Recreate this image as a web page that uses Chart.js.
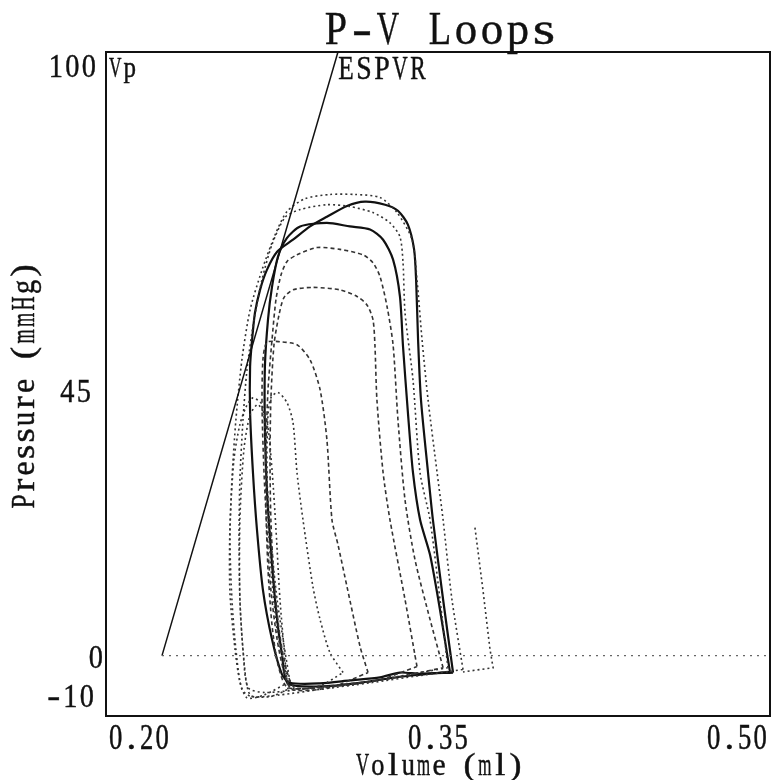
<!DOCTYPE html>
<html>
<head>
<meta charset="utf-8">
<title>P-V Loops</title>
<script src="https://cdn.jsdelivr.net/npm/chart.js@4.4.1/dist/chart.umd.min.js"></script>
<style>
  html, body { margin: 0; padding: 0; background: #fff; }
  canvas { display: block; }
</style>
</head>
<body>
<canvas id="pvChart" width="772" height="780"></canvas>
<script>
// axis ticks
const xTicks = [0.20, 0.35, 0.50];
const xTickLabels = ['0.20', '0.35', '0.50'];
const yTicks = [100, 45, 0, -10];
const yTickLabels = ['100', '45', '0', '-10'];

// ESPVR line and zero pressure line, [volume, pressure]
const espvr = [[0.2253, 0], [0.3048, 100]];
const zeroLine = [[0.2253, 0], [0.50, 0]];

// loops, [volume (ml), pressure (mmHg)]
const loopA = [[0.3613,-2.3],[0.3563,9.3],[0.3523,22.5],[0.3496,30.3],[0.3455,42.4],[0.3428,52.3],[0.3405,62.3],[0.3383,68.9],[0.3315,73.4],[0.3238,75.9],[0.3125,76.4],[0.3012,76.4],[0.2899,75.7],[0.2818,73.6],[0.2764,69.7],[0.2705,63.9],[0.2651,57.3],[0.2614,49.0],[0.2587,39.1],[0.2569,29.2],[0.2560,19.2],[0.2569,9.3],[0.2587,1.0],[0.2614,-5.6],[0.2660,-6.8],[0.2786,-6.5],[0.2967,-5.6],[0.3193,-4.5],[0.3419,-3.3],[0.3613,-2.3]];
const loopB = [[0.3568,-2.8],[0.3523,9.3],[0.3477,22.5],[0.3455,30.3],[0.3423,42.4],[0.3410,52.3],[0.3401,62.3],[0.3392,67.3],[0.3364,71.4],[0.3319,73.7],[0.3261,74.7],[0.3170,75.2],[0.3089,74.5],[0.2998,72.7],[0.2922,71.1],[0.2845,68.9],[0.2773,66.9],[0.2727,63.9],[0.2696,60.6],[0.2673,56.8],[0.2660,52.3],[0.2651,47.9],[0.2651,40.3],[0.2664,30.3],[0.2682,20.9],[0.2709,10.9],[0.2750,2.7],[0.2795,-3.1],[0.2831,-4.5],[0.2967,-4.6],[0.3102,-4.1],[0.3238,-3.6],[0.3328,-2.8],[0.3419,-3.0],[0.3568,-2.8]];
const loopC = [[0.3554,-2.7],[0.3509,7.6],[0.3464,16.7],[0.3419,22.5],[0.3387,30.3],[0.3364,40.3],[0.3342,51.2],[0.3328,59.5],[0.3297,65.6],[0.3252,68.9],[0.3193,70.6],[0.3102,71.1],[0.2998,71.7],[0.2877,71.1],[0.2818,69.2],[0.2777,66.1],[0.2750,61.1],[0.2732,55.7],[0.2718,47.9],[0.2718,37.4],[0.2727,27.5],[0.2745,17.6],[0.2768,7.6],[0.2795,0.2],[0.2822,-4.6],[0.2967,-5.1],[0.3148,-4.5],[0.3328,-3.5],[0.3554,-2.7]];
const loopD = [[0.3545,-2.0],[0.3509,9.3],[0.3464,22.5],[0.3419,30.3],[0.3387,45.7],[0.3351,56.8],[0.3342,65.1],[0.3328,69.4],[0.3283,71.7],[0.3206,73.4],[0.3102,74.4],[0.2998,74.7],[0.2877,73.9],[0.2809,72.6],[0.2750,68.1],[0.2705,62.3],[0.2669,55.7],[0.2637,47.4],[0.2619,39.1],[0.2605,29.2],[0.2601,19.2],[0.2605,9.3],[0.2619,1.0],[0.2642,-5.3],[0.2718,-6.1],[0.2877,-5.6],[0.3148,-4.5],[0.3373,-3.1],[0.3545,-2.0]];
const loopE = [[0.3523,-2.0],[0.3464,6.0],[0.3396,15.9],[0.3351,25.8],[0.3319,39.1],[0.3297,51.5],[0.3270,57.8],[0.3238,62.8],[0.3206,65.1],[0.3161,66.4],[0.3057,67.3],[0.2953,67.6],[0.2863,66.4],[0.2818,65.3],[0.2791,63.1],[0.2768,59.0],[0.2750,52.3],[0.2732,44.1],[0.2723,34.1],[0.2723,24.2],[0.2732,14.2],[0.2750,5.1],[0.2777,-1.5],[0.2822,-5.3],[0.3012,-5.0],[0.3283,-3.8],[0.3523,-2.0]];
const loopF = [[0.3405,-1.8],[0.3351,9.3],[0.3283,22.5],[0.3252,30.3],[0.3224,42.4],[0.3215,51.5],[0.3206,55.7],[0.3179,58.1],[0.3134,59.5],[0.3057,60.6],[0.2935,61.0],[0.2845,60.6],[0.2804,59.3],[0.2782,56.5],[0.2759,51.5],[0.2745,42.4],[0.2741,32.5],[0.2745,22.5],[0.2759,12.6],[0.2782,4.3],[0.2813,-2.0],[0.2854,-5.3],[0.3057,-5.0],[0.3238,-4.0],[0.3405,-1.8]];
const loopG = [[0.3184,-2.8],[0.3148,1.5],[0.3089,11.4],[0.3048,18.4],[0.3021,22.5],[0.2998,35.8],[0.2967,44.1],[0.2922,49.0],[0.2863,51.5],[0.2786,52.0],[0.2727,51.9],[0.2709,49.0],[0.2705,41.2],[0.2714,30.3],[0.2727,20.9],[0.2745,10.9],[0.2773,2.7],[0.2804,-2.7],[0.2840,-5.6],[0.3012,-5.3],[0.3184,-2.8]];
const loopH = [[0.3071,-2.8],[0.3012,0.5],[0.2967,6.0],[0.2935,11.4],[0.2890,22.5],[0.2863,30.3],[0.2845,38.6],[0.2818,41.9],[0.2777,43.6],[0.2745,42.7],[0.2732,39.9],[0.2727,32.5],[0.2732,22.5],[0.2750,12.6],[0.2773,4.3],[0.2804,-1.5],[0.2840,-5.3],[0.2967,-5.0],[0.3071,-2.8]];
const loopI = [[0.2831,-4.3],[0.2804,1.8],[0.2773,9.3],[0.2745,19.2],[0.2727,29.2],[0.2718,37.4],[0.2705,41.6],[0.2664,42.7],[0.2633,41.2],[0.2605,38.3],[0.2578,32.5],[0.2560,21.4],[0.2560,10.4],[0.2583,1.0],[0.2605,-4.3],[0.2637,-7.0],[0.2709,-6.6],[0.2831,-4.3]];
const loopJ = [[0.2822,-5.6],[0.2809,-0.7],[0.2786,9.3],[0.2768,20.9],[0.2750,30.8],[0.2727,38.8],[0.2687,41.6],[0.2651,39.9],[0.2623,34.1],[0.2605,22.5],[0.2605,9.3],[0.2623,-0.7],[0.2651,-6.5],[0.2741,-6.8],[0.2822,-5.6]];
const strayTrace = [[0.3667,21.2],[0.3703,10.9],[0.3735,1.0],[0.3749,-2.0],[0.3613,-2.7]];

const toPts = arr => arr.map(p => ({ x: p[0], y: p[1] }));

const SOLID = { borderColor: '#111', borderWidth: 2.2, borderDash: [] };
const DOTTED = { borderColor: '#333', borderWidth: 1.6, borderDash: [2, 3] };
const DASHED = { borderColor: '#333', borderWidth: 1.6, borderDash: [4, 3] };

function line(arr, style, tension) {
  return Object.assign({
    data: toPts(arr),
    showLine: true,
    pointRadius: 0,
    fill: false,
    tension: tension === undefined ? 0.25 : tension
  }, style);
}

const datasets = [
  line(zeroLine, { borderColor: '#666', borderWidth: 1.2, borderDash: [2, 5] }, 0),
  line(espvr, { borderColor: '#111', borderWidth: 1.5, borderDash: [] }, 0),
  line(loopA, DOTTED),
  line(loopD, DOTTED),
  line(loopE, DASHED),
  line(loopF, DASHED),
  line(loopG, DASHED),
  line(loopH, DOTTED),
  line(loopI, DOTTED),
  line(loopJ, DOTTED),
  line(strayTrace, DOTTED, 0),
  line(loopC, SOLID),
  line(loopB, SOLID)
];

// plotter-style text: serif glyphs set in fixed-width cells, stretched tall
function monoText(ctx, str, x, y, cell, size, sy, align, rot) {
  ctx.save();
  ctx.font = size + 'px "Liberation Serif"';
  ctx.fillStyle = '#111';
  ctx.strokeStyle = '#111';
  ctx.lineWidth = 0.35;
  ctx.textAlign = 'center';
  ctx.textBaseline = 'alphabetic';
  ctx.translate(x, y);
  if (rot) ctx.rotate(rot);
  const total = cell * str.length;
  let start = 0;
  if (align === 'center') start = -total / 2;
  if (align === 'right') start = -total;
  for (let i = 0; i < str.length; i++) {
    const ch = str[i];
    if (ch === ' ') continue;
    const w = ctx.measureText(ch).width;
    const sx = Math.max(0.7, Math.min(1.5, (cell * 0.86) / w));
    ctx.save();
    ctx.translate(start + cell * i + cell / 2, 0);
    ctx.scale(sx, sy);
    ctx.fillText(ch, 0, 0);
    ctx.strokeText(ch, 0, 0);
    ctx.restore();
  }
  ctx.restore();
}

const frameAndText = {
  id: 'frameAndText',
  afterDraw(chart) {
    const ctx = chart.ctx;
    const a = chart.chartArea;
    const xs = chart.scales.x, ys = chart.scales.y;

    ctx.save();
    ctx.strokeStyle = '#111';
    ctx.lineWidth = 2;
    ctx.strokeRect(a.left, a.top, a.right - a.left, a.bottom - a.top);
    ctx.restore();

    // title
    monoText(ctx, 'P-V Loops', 440, 44, 26, 40, 1.15, 'center');

    // x tick labels
    const xAlign = ['left', 'center', 'right'];
    xTicks.forEach((v, i) => {
      let px = xs.getPixelForValue(v);
      if (i === 0) px += 2;
      if (i === 2) px -= 2;
      monoText(ctx, xTickLabels[i], px, a.bottom + 33, 15.5, 26, 1.38, xAlign[i]);
    });

    // y tick labels
    const yOff = [25, 18, 12, -9];
    const yRight = [97, 92, 104, 95];
    yTicks.forEach((v, i) => {
      monoText(ctx, yTickLabels[i], yRight[i], ys.getPixelForValue(v) + yOff[i], 16.5, 26, 1.32, 'right');
    });

    // axis titles
    monoText(ctx, 'Volume (ml)', 439, 775, 15.3, 24, 1.3, 'center');
    monoText(ctx, 'Pressure (mmHg)', 34, 386, 16.5, 25, 1.32, 'center', -Math.PI / 2);

    // annotations
    monoText(ctx, 'Vp', a.left + 2, 77, 14.5, 22, 1.3, 'left');
    monoText(ctx, 'ESPVR', xs.getPixelForValue(espvr[1][0]) - 1, 79, 18, 26, 1.3, 'left');
  }
};

const ctx = document.getElementById('pvChart').getContext('2d');
const pvChart = new Chart(ctx, {
  type: 'scatter',
  data: { datasets: datasets },
  options: {
    responsive: false,
    animation: false,
    layout: { padding: { left: 106, right: 2, top: 52, bottom: 64 } },
    plugins: {
      legend: { display: false },
      tooltip: { enabled: false },
      title: { display: false }
    },
    scales: {
      x: { type: 'linear', min: 0.20, max: 0.50, display: false },
      y: { type: 'linear', min: -10, max: 100, display: false }
    }
  },
  plugins: [frameAndText]
});
</script>
</body>
</html>
